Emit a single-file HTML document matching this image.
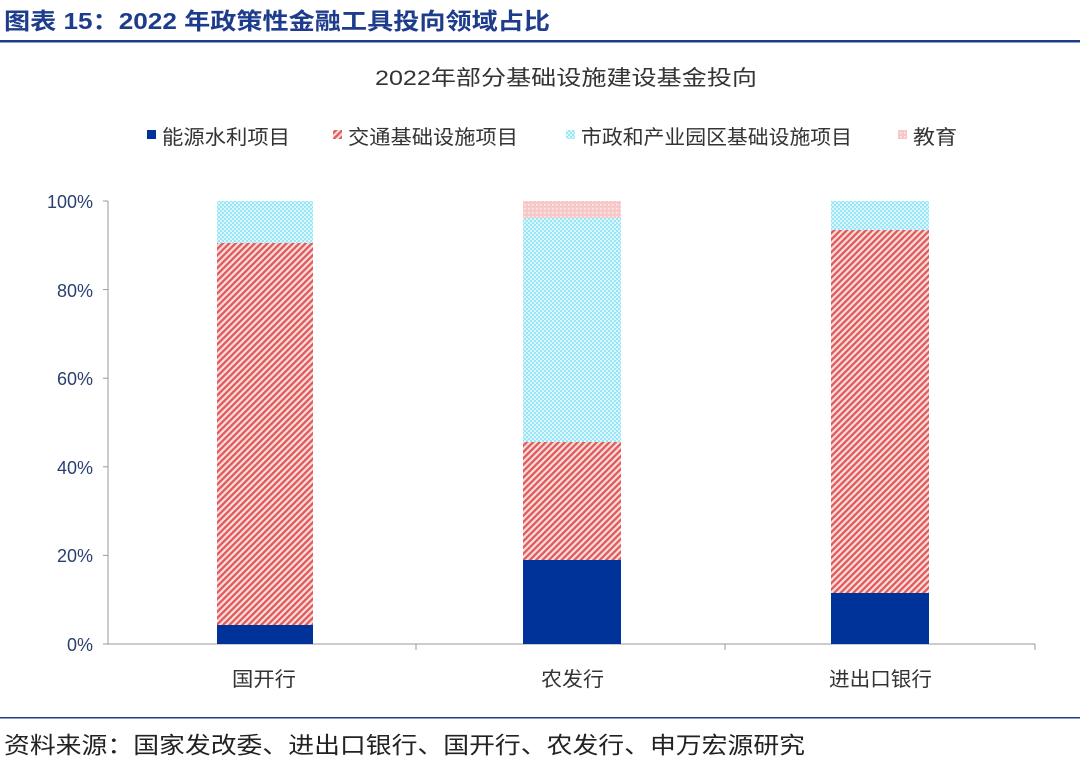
<!DOCTYPE html>
<html><head><meta charset="utf-8"><style>
body{margin:0;background:#fff;width:1080px;height:761px;overflow:hidden;font-family:"Liberation Sans","Noto Sans CJK SC",sans-serif;}
</style></head><body>
<svg width="1080" height="761" xmlns="http://www.w3.org/2000/svg" style="position:absolute;left:0;top:0" font-family="Liberation Sans,Noto Sans CJK SC,sans-serif">
<defs>
<pattern id="red" width="4.5" height="4.5" patternUnits="userSpaceOnUse" patternTransform="rotate(45)">
<rect width="4.5" height="4.5" fill="#f9dede"/><rect width="2.3" height="4.5" fill="#e05a5a"/>
</pattern>
<pattern id="cyan" width="4" height="4" patternUnits="userSpaceOnUse">
<rect width="4" height="4" fill="#9be6f6"/><rect width="2" height="2" fill="#d8f6fc"/><rect x="2" y="2" width="2" height="2" fill="#d8f6fc"/>
</pattern>
<pattern id="pink" width="4" height="4" patternUnits="userSpaceOnUse">
<rect width="4" height="4" fill="#f6c8c8"/><rect width="1.5" height="1.5" fill="#fdeeee"/>
</pattern>
</defs>
<text x="4" y="29" font-size="23" font-weight="bold" fill="#1d3c8c" textLength="546" lengthAdjust="spacingAndGlyphs">图表 15：2022 年政策性金融工具投向领域占比</text>
<rect x="0" y="40" width="1080" height="2.5" fill="#1d3c8c"/>
<text x="375" y="85" font-size="21" fill="#333" textLength="382" lengthAdjust="spacingAndGlyphs">2022年部分基础设施建设基金投向</text>
<g font-size="20" fill="#333">
<rect x="147" y="130" width="9" height="9" fill="#003399"/><text x="162" y="144" textLength="128" lengthAdjust="spacingAndGlyphs">能源水利项目</text>
<rect x="333" y="130" width="9" height="9" fill="url(#red)"/><text x="348" y="144" textLength="170" lengthAdjust="spacingAndGlyphs">交通基础设施项目</text>
<rect x="566" y="130" width="9" height="9" fill="url(#cyan)"/><text x="581" y="144" textLength="271" lengthAdjust="spacingAndGlyphs">市政和产业园区基础设施项目</text>
<rect x="898" y="130" width="9" height="9" fill="url(#pink)"/><text x="913" y="144" textLength="44" lengthAdjust="spacingAndGlyphs">教育</text>
</g>
<g font-size="18" fill="#2a3f6e" text-anchor="end">
<text x="93" y="651">0%</text><text x="93" y="562">20%</text><text x="93" y="474">40%</text><text x="93" y="385">60%</text><text x="93" y="297">80%</text><text x="93" y="208">100%</text>
</g>
<g stroke="#999" stroke-width="1">
<line x1="108" y1="201" x2="108" y2="644"/>
<line x1="103" y1="644" x2="1035" y2="644"/>
<line x1="103" y1="201" x2="108" y2="201"/><line x1="103" y1="289.6" x2="108" y2="289.6"/><line x1="103" y1="378.2" x2="108" y2="378.2"/><line x1="103" y1="466.8" x2="108" y2="466.8"/><line x1="103" y1="555.4" x2="108" y2="555.4"/>
<line x1="416" y1="644" x2="416" y2="650"/><line x1="725" y1="644" x2="725" y2="650"/><line x1="1035" y1="644" x2="1035" y2="650"/>
</g>
<rect x="217" y="201" width="96" height="42" fill="url(#cyan)"/>
<rect x="217" y="243" width="96" height="382" fill="url(#red)"/>
<rect x="217" y="625" width="96" height="19" fill="#003399"/>
<rect x="523" y="201" width="98" height="17" fill="url(#pink)"/>
<rect x="523" y="218" width="98" height="224" fill="url(#cyan)"/>
<rect x="523" y="442" width="98" height="118" fill="url(#red)"/>
<rect x="523" y="560" width="98" height="84" fill="#003399"/>
<rect x="831" y="201" width="98" height="29" fill="url(#cyan)"/>
<rect x="831" y="230" width="98" height="363" fill="url(#red)"/>
<rect x="831" y="593" width="98" height="51" fill="#003399"/>
<g font-size="20" fill="#333">
<text x="232" y="686" textLength="64" lengthAdjust="spacingAndGlyphs">国开行</text><text x="541" y="686" textLength="63" lengthAdjust="spacingAndGlyphs">农发行</text><text x="829" y="686" textLength="103" lengthAdjust="spacingAndGlyphs">进出口银行</text>
</g>
<rect x="0" y="717" width="1080" height="1.5" fill="#1d3c8c"/>
<text x="4" y="753" font-size="23" fill="#222" textLength="801" lengthAdjust="spacingAndGlyphs">资料来源：国家发改委、进出口银行、国开行、农发行、申万宏源研究</text>
</svg>
</body></html>
